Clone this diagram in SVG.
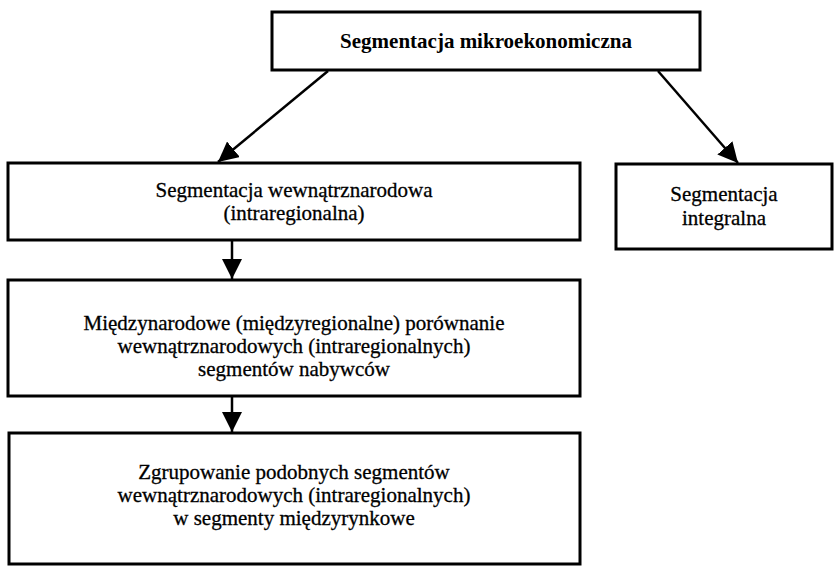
<svg xmlns="http://www.w3.org/2000/svg" width="836" height="567" viewBox="0 0 836 567">
<style>
.box{fill:#fff;stroke:#000;stroke-width:3}
.t{font-family:"Liberation Serif","Times New Roman",serif;font-size:21px;fill:#000;text-anchor:middle;stroke:#000;stroke-width:0.3}
.b{font-weight:bold;stroke-width:0}
.c{stroke:#000;stroke-width:2.5;fill:none}
</style>
<defs>
<marker id="ah" markerWidth="20" markerHeight="20" refX="20" refY="10" orient="auto" markerUnits="userSpaceOnUse">
<path d="M0,0 L20,10 L0,20 Z" fill="#000"/>
</marker>
</defs>
<rect width="836" height="567" fill="#fff"/>
<g id="n1">
<rect class="box" x="272" y="12" width="428" height="58"/>
<text class="t b" x="486" y="48">Segmentacja mikroekonomiczna</text>
</g>
<g id="n2">
<rect class="box" x="8" y="163" width="572" height="77"/>
<text class="t" x="294" y="197">Segmentacja wewnątrznarodowa</text>
<text class="t" x="294" y="220">(intraregionalna)</text>
</g>
<g id="n3">
<rect class="box" x="616" y="164" width="216" height="85"/>
<text class="t" x="724" y="201">Segmentacja</text>
<text class="t" x="724" y="225">integralna</text>
</g>
<g id="n4">
<rect class="box" x="8" y="280" width="572" height="116"/>
<text class="t" x="294" y="330">Międzynarodowe (międzyregionalne) porównanie</text>
<text class="t" x="294" y="353">wewnątrznarodowych (intraregionalnych)</text>
<text class="t" x="294" y="376">segmentów nabywców</text>
</g>
<g id="n5">
<rect class="box" x="9" y="433" width="571" height="131"/>
<text class="t" x="294" y="479">Zgrupowanie podobnych segmentów</text>
<text class="t" x="294" y="502">wewnątrznarodowych (intraregionalnych)</text>
<text class="t" x="294" y="525">w segmenty międzyrynkowe</text>
</g>
<g id="connectors">
<line class="c" x1="328" y1="71" x2="218" y2="162" marker-end="url(#ah)"/>
<line class="c" x1="658" y1="71" x2="738" y2="163" marker-end="url(#ah)"/>
<line class="c" x1="232" y1="241" x2="232" y2="279" marker-end="url(#ah)"/>
<line class="c" x1="232" y1="397" x2="232" y2="432" marker-end="url(#ah)"/>
</g>
</svg>
